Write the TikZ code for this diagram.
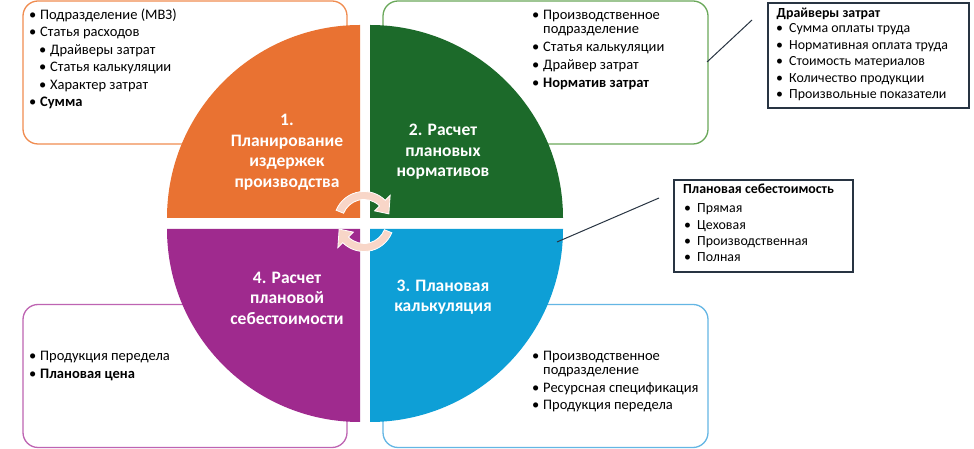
\documentclass[tikz,border=0pt]{standalone}
\usepackage{fontspec}
\setmainfont{Carlito}
\definecolor{qorange}{RGB}{233,114,50}
\definecolor{qgreen}{RGB}{28,106,42}
\definecolor{qblue}{RGB}{14,159,214}
\definecolor{qpurple}{RGB}{159,42,142}
\definecolor{borange}{RGB}{240,140,80}
\definecolor{bgreen}{RGB}{106,168,90}
\definecolor{bblue}{RGB}{100,182,228}
\definecolor{bpurple}{RGB}{190,100,178}
\definecolor{cycfill}{RGB}{248,214,200}
\definecolor{calloutline}{RGB}{40,52,66}
\newcommand\bul{\makebox[11pt][l]{•}}
\newcommand\cbul{\makebox[13pt][l]{•}}
\tikzset{
  infobox/.style={draw, line width=1.3pt, rounded corners=15pt, fill=white, minimum height=143pt, inner sep=0pt},
  calloutbox/.style={draw=calloutline, line width=1.4pt, fill=white, inner sep=0pt},
  conn/.style={draw=calloutline, line width=1pt},
  li/.style={anchor=base west, inner sep=0pt, font=\fontsize{14.5}{17}\selectfont},
  cli/.style={anchor=base west, inner sep=0pt, font=\fontsize{13.9}{16}\selectfont},
  qlabel/.style={align=center, text=white, inner sep=0pt, font=\fontsize{17.5}{20.5}\selectfont\bfseries},
  cyc/.style={fill=cycfill, draw=white, line width=0.8pt},
}
\begin{document}
\begin{tikzpicture}[x=1pt,y=1pt]
\useasboundingbox (0,0) rectangle (974,449);
\fill[white] (0,0) rectangle (974,449);

% info boxes
\node[infobox, draw=borange, minimum width=324pt] (obox) at (185,376.5) {};
\node[infobox, draw=bgreen, minimum width=325pt] (gbox) at (545.5,376.5) {};
\node[infobox, draw=bpurple, minimum width=324pt] (pbox) at (185,73) {};
\node[infobox, draw=bblue, minimum width=325pt] (bbox) at (545.5,73) {};

% quadrants
\fill[qorange] (360,231) -- (167,231) arc (180:90:193) -- cycle;
\fill[qgreen] (370,231) -- (370,424) arc (90:0:193) -- cycle;
\fill[qblue] (370,220) -- (563,220) arc (0:-90:193) -- cycle;
\fill[qpurple] (360,220) -- (360,27) arc (-90:-180:193) -- cycle;

% cycle arrows
\begin{scope}[shift={(364,227.5)}]
\filldraw[cyc] (158:30) arc (158:45:30) -- (45:37) -- (17:26) -- (45:15) -- (45:22) arc (45:158:22) -- cycle;
\filldraw[cyc] (-22:30) arc (-22:-135:30) -- (-135:37) -- (-163:26) -- (-135:15) -- (-135:22) arc (-135:-22:22) -- cycle;
\end{scope}

% quadrant labels
\node[qlabel] (lab1) at (287,297) {1.\\Планирование\\издержек\\производства};
\node[qlabel] (lab2) at (443,297) {2. Расчет\\плановых\\нормативов};
\node[qlabel] (lab3) at (443,152) {3. Плановая\\калькуляция};
\node[qlabel] (lab4) at (287,151) {4. Расчет\\плановой\\себестоимости};

% orange list
\node[li] (o1) at (29,429.5) {\bul Подразделение (МВЗ)};
\node[li] (o2) at (29,412) {\bul Статья расходов};
\node[li] (o3) at (39,394.5) {\bul Драйверы затрат};
\node[li] (o4) at (39,377) {\bul Статья калькуляции};
\node[li] (o5) at (39,359.5) {\bul Характер затрат};
\node[li] (o6) at (29,342) {\bul\textbf{Сумма}};

% green list
\node[li] (g1) at (532,429.5) {\bul Производственное};
\node[li] (g1b) at (543,415.5) {подразделение};
\node[li] (g2) at (532,397.5) {\bul Статья калькуляции};
\node[li] (g3) at (532,379.5) {\bul Драйвер затрат};
\node[li] (g4) at (532,361.5) {\bul\textbf{Норматив затрат}};

% blue list
\node[li] (b1) at (532,88.5) {\bul Производственное};
\node[li] (b1b) at (543,74.5) {подразделение};
\node[li] (b2) at (532,56.8) {\bul Ресурсная спецификация};
\node[li] (b3) at (532,39.5) {\bul Продукция передела};

% purple list
\node[li] (p1) at (29,88.5) {\bul Продукция передела};
\node[li] (p2) at (29,70.5) {\bul\textbf{Плановая цена}};

% callout: drivers
\node[calloutbox, minimum width=201pt, minimum height=105pt] (dbox) at (868.5,393.5) {};
\node[cli] (d0) at (776.5,431) {\textbf{Драйверы затрат}};
\node[cli] (d1) at (776,416) {\cbul Сумма оплаты труда};
\node[cli] (d2) at (776,399.5) {\cbul Нормативная оплата труда};
\node[cli] (d3) at (776,383) {\cbul Стоимость материалов};
\node[cli] (d4) at (776,366.5) {\cbul Количество продукции};
\node[cli] (d5) at (776,350) {\cbul Произвольные показатели};
\coordinate (da) at (707,387);
\coordinate (db) at (752,429);
\draw[conn] (da) -- (db);

% callout: plan cost
\node[calloutbox, minimum width=179pt, minimum height=92pt] (cbox) at (763.5,223) {};
\node[cli] (c0) at (683,255.5) {\textbf{Плановая себестоимость}};
\node[cli] (c1) at (684,236) {\cbul Прямая};
\node[cli] (c2) at (684,219) {\cbul Цеховая};
\node[cli] (c3) at (684,203) {\cbul Производственная};
\node[cli] (c4) at (684,187) {\cbul Полная};
\coordinate (ca) at (557,207);
\coordinate (cb) at (659,251);
\draw[conn] (ca) -- (cb);
\end{tikzpicture}
\end{document}
